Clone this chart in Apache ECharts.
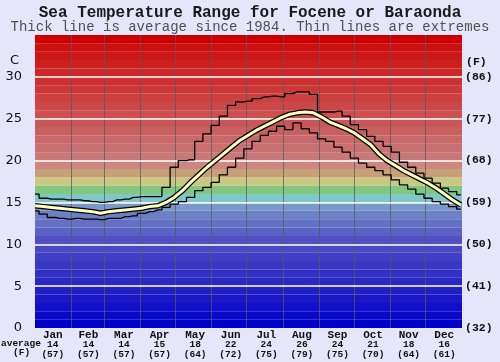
<!DOCTYPE html>
<html><head><meta charset="utf-8">
<script src="https://cdn.jsdelivr.net/npm/echarts@6/dist/echarts.min.js"></script>
<style>html,body{margin:0;padding:0;background:#e6e6fa}#c{width:500px;height:362px}</style>
</head><body><div id="c"></div>
<script>
const months = ['Jan','Feb','Mar','Apr','May','Jun','Jul','Aug','Sep','Oct','Nov','Dec'];
const avgC = [14,14,14,15,18,22,24,26,24,21,18,16];
const avgF = [57,57,57,57,64,72,75,79,75,70,64,61];
const monthStartDays = [31,59,90,120,151,181,212,243,273,304,334];
const yTicksC = [5,10,15,20,25,30];
const fLabels = ['(32)','(41)','(50)','(59)','(68)','(77)','(86)'];
const weekDays = [0,7,14,21,28,35,42,49,56,63,70,77,84,91,98,105,112,119,126,133,140,147,154,161,168,175,182,189,196,203,210,217,224,231,238,245,252,259,266,273,280,287,294,301,308,315,322,329,336,343,350,357,364];
const avgTemp = [14.6,14.5,14.4,14.3,14.2,14.1,14.0,13.9,13.7,13.9,14.0,14.1,14.2,14.3,14.5,14.6,15.0,15.6,16.4,17.4,18.3,19.2,20.0,20.8,21.6,22.4,23.0,23.6,24.1,24.6,25.1,25.5,25.7,25.8,25.7,25.2,24.6,24.2,23.8,23.3,22.6,21.9,20.8,20.0,19.4,18.8,18.3,17.8,17.3,16.7,16.0,15.3,14.7];
const maxTemp = [16.0,15.5,15.4,15.4,15.3,15.3,15.2,15.1,15.0,15.1,15.3,15.4,15.6,15.7,15.7,15.7,16.8,19.2,20.0,20.1,22.3,23.2,24.2,25.3,26.6,27.0,27.1,27.4,27.6,27.7,27.6,28.0,28.2,28.2,27.9,25.8,25.8,25.9,25.3,24.3,23.7,22.9,22.3,21.7,21.0,19.8,19.2,18.5,17.9,17.3,16.7,16.3,15.9];
const minTemp = [14.0,13.6,13.2,13.1,13.0,13.1,13.0,13.0,12.95,13.1,13.1,13.3,13.4,13.7,13.9,14.1,14.4,14.8,15.1,15.6,16.4,16.8,17.4,18.3,19.2,20.3,21.4,22.3,23.0,23.5,24.1,23.7,24.5,23.8,23.3,22.6,22.3,21.6,21.0,20.3,19.7,19.2,18.8,18.3,17.7,17.1,16.6,16.0,15.5,15.1,14.8,14.5,14.2];
const bandColors = ['#0000c8','#0808c8','#1010c8','#1818c4','#2020c4','#2828c4','#3030c4','#3838c4','#4040c4','#4848c4','#5050c4','#5a62c4','#6470c4','#6c80c6','#7898c8','#80c8c8','#80c880','#c8c880','#c8a078','#cc8880','#c87878','#c87070','#c86868','#c86060','#c85858','#cc5050','#cc4848','#cc4040','#cc3838','#cc3030','#cc2828','#cc2020','#cc1818','#cc1010','#cc0000'];

const chart = echarts.init(document.getElementById('c'), null, {renderer:'canvas'});
const mono = '"Liberation Mono","DejaVu Sans Mono",monospace';
const pair = arr => weekDays.map((d,i)=>[d, arr[i]]);
chart.setOption({
  backgroundColor:'#e6e6fa',
  animation:false,
  title:[
    {text:'Sea Temperature Range for Focene or Baraonda', left:'center', top:5, padding:0,
     textStyle:{fontFamily:mono, fontSize:16, fontWeight:'bold', color:'#1a1a1a'}},
    {text:'Thick line is average since 1984. Thin lines are extremes', left:'center', top:20, padding:0,
     textStyle:{fontFamily:mono, fontSize:14, fontWeight:'normal', color:'#505050'}}
  ],
  grid:{left:35, right:38, top:35, bottom:34},
  xAxis:[
    {type:'value', min:0, max:365, show:false},
    {type:'category', data:months, boundaryGap:true, position:'bottom',
     axisLine:{show:false}, axisTick:{show:false}, splitLine:{show:false},
     axisLabel:{margin:2, interval:0,
       formatter:(v,i)=>`{m|${v}}\n{n|${avgC[i]}}\n{n|(${avgF[i]})}`,
       rich:{m:{fontFamily:mono,fontSize:11,fontWeight:'bold',color:'#111',lineHeight:10},
             n:{fontFamily:mono,fontSize:9.5,fontWeight:'bold',color:'#111',lineHeight:9.5}}}}
  ],
  yAxis:[
    {type:'value', min:0, max:35, interval:5, position:'left',
     axisLine:{show:false}, axisTick:{show:false}, splitLine:{show:false},
     axisLabel:{margin:13, formatter:v=> v===35?'':String(v), fontFamily:'"DejaVu Sans",sans-serif', fontSize:13, color:'#111'}},
    {type:'value', min:0, max:35, interval:5, position:'right',
     axisLine:{show:false}, axisTick:{show:false}, splitLine:{show:false},
     axisLabel:{margin:3, formatter:v=> fLabels[v/5] || '', fontFamily:mono, fontSize:11.5, fontWeight:'bold', color:'#111'}}
  ],
  graphic:[
    {type:'text', left:10, top:54, style:{text:'C', font:'13px "DejaVu Sans"', fill:'#111'}},
    {type:'text', left:466, top:56, style:{text:'(F)', font:'bold 11.5px "Liberation Mono"', fill:'#111'}},
    {type:'text', left:1, top:339, style:{text:'average', font:'bold 9.5px "Liberation Mono"', fill:'#111'}},
    {type:'text', left:13, top:348, style:{text:'(F)', font:'bold 9.5px "Liberation Mono"', fill:'#111'}}
  ],
  series:[
    {type:'line', data:[], z:1, silent:true,
     markArea:{silent:true, itemStyle:{opacity:1},
       data: bandColors.map((c,i)=>[{yAxis:i, itemStyle:{color:c, opacity:1}},{yAxis:i+1}])}},
    {type:'line', data:[], z:2, silent:true,
     markLine:{silent:true, symbol:'none', label:{show:false},
       lineStyle:{color:'rgba(90,90,90,0.75)', width:1, type:'solid'},
       data: monthStartDays.map(d=>({xAxis:d}))}},
    {type:'line', data:[], z:3, silent:true,
     markLine:{silent:true, symbol:'none', label:{show:false},
       lineStyle:{color:'#ffffff', width:1.5, type:'solid'},
       data: yTicksC.map(v=>({yAxis:v}))}},
    {type:'line', name:'max', data:pair(maxTemp), step:'middle', showSymbol:false, z:5,
     lineStyle:{color:'#000', width:1.3}},
    {type:'line', name:'min', data:pair(minTemp), step:'middle', showSymbol:false, z:5,
     lineStyle:{color:'#000', width:1.3}},
    {type:'line', name:'avgOutline', data:pair(avgTemp), showSymbol:false, z:6,
     lineStyle:{color:'#000', width:5.5}},
    {type:'line', name:'avg', data:pair(avgTemp), showSymbol:false, z:7,
     lineStyle:{color:'#ffffc0', width:3}}
  ]
});
</script></body></html>
